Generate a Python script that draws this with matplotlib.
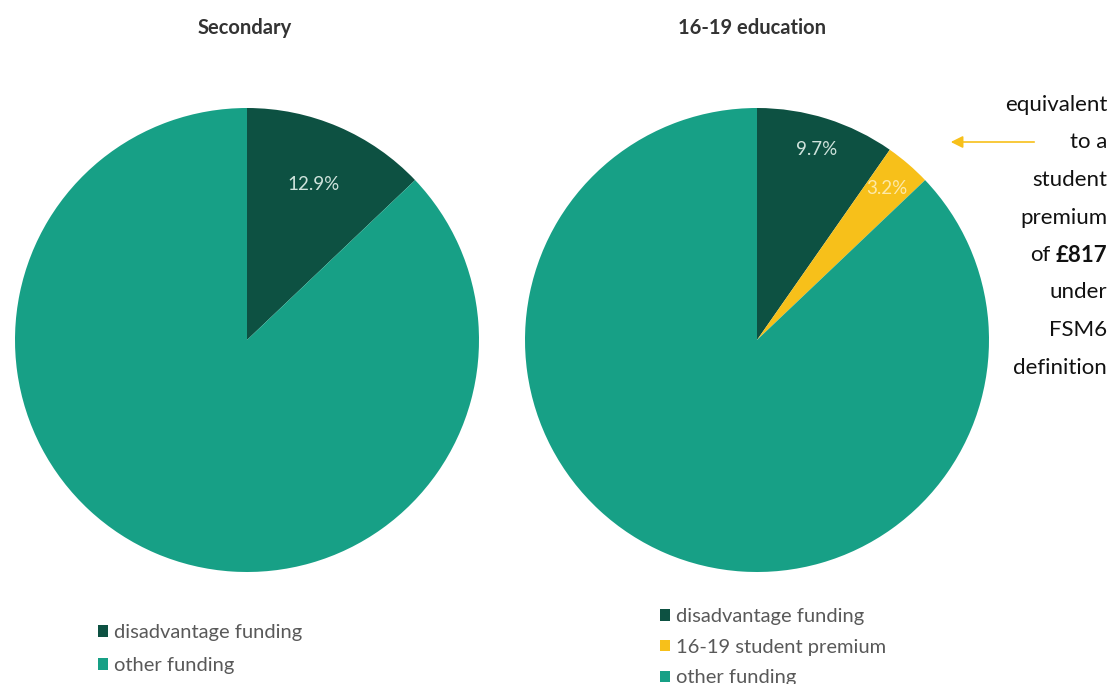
import matplotlib
matplotlib.use("Agg")
import matplotlib.pyplot as plt

plt.rcParams['font.family'] = ['Lato', 'DejaVu Sans']

# data
secondary_labels = ["disadvantage funding", "other funding"]
secondary_values = [12.9, 87.1]
post16_labels = ["disadvantage funding", "16-19 student premium", "other funding"]
post16_values = [9.7, 3.2, 87.1]

dark = "#0d5142"
teal = "#17a086"
yellow = "#f7c01a"

fig = plt.figure(figsize=(11.12, 6.84), dpi=100)
ax = fig.add_axes([0, 0, 1, 1])

w1, t1, a1 = ax.pie(secondary_values, colors=[dark, teal], startangle=90, counterclock=False,
                    center=(247, 344), radius=232, autopct='%.1f%%', pctdistance=0.73,
                    textprops=dict(color="#cfe3dc", fontsize=13.5), frame=True)
w2, t2, a2 = ax.pie(post16_values, colors=[dark, yellow, teal], startangle=90, counterclock=False,
                    center=(757, 344), radius=232, autopct='%.1f%%', pctdistance=0.86,
                    textprops=dict(color="#cfe3dc", fontsize=13.5), frame=True)
a2[1].set_color("#fde9a8")
a1[1].set_visible(False)
a2[2].set_visible(False)
ax.set_xlim(0, 1112)
ax.set_ylim(0, 684)
ax.set_aspect('equal')
ax.axis('off')

ax.text(245, 684 - 28, "Secondary", ha='center', va='center', fontsize=14.5, fontweight='bold', color="#333333")
ax.text(752, 684 - 28, "16-19 education", ha='center', va='center', fontsize=14.5, fontweight='bold', color="#333333")

leg1 = ax.legend(w1, secondary_labels, loc='upper left', bbox_to_anchor=(88 / 1112, 1 - 614 / 684),
                 frameon=False, fontsize=14.5, handlelength=0.5, handleheight=0.5, handletextpad=0.3,
                 labelspacing=0.8, labelcolor="#595959", borderpad=0)
ax.add_artist(leg1)
ax.legend(w2, post16_labels, loc='upper left', bbox_to_anchor=(650 / 1112, 1 - 598 / 684),
          frameon=False, fontsize=14.5, handlelength=0.5, handleheight=0.5, handletextpad=0.3,
          labelspacing=0.68, labelcolor="#595959", borderpad=0)

# annotation on the right
lines = ["equivalent", "to a", "student", "premium", None, "under", "FSM6", "definition"]
y0 = 684 - 105
fig.canvas.draw()
for i, s in enumerate(lines):
    y = y0 - i * 37.5
    if s is None:
        t = ax.text(1107, y, "£817", ha='right', va='center', fontsize=16, fontweight='bold', color="#111111")
        bb = t.get_window_extent(fig.canvas.get_renderer())
        ax.text(bb.x0 - 5, y, "of", ha='right', va='center', fontsize=16, color="#111111")
    else:
        ax.text(1107, y, s, ha='right', va='center', fontsize=16, color="#111111")

ax.annotate("", xy=(948, 684 - 142), xytext=(1037, 684 - 142),
            arrowprops=dict(arrowstyle='-|>', color=yellow, lw=1.2, mutation_scale=18))

fig.savefig("out.png", dpi=100)
